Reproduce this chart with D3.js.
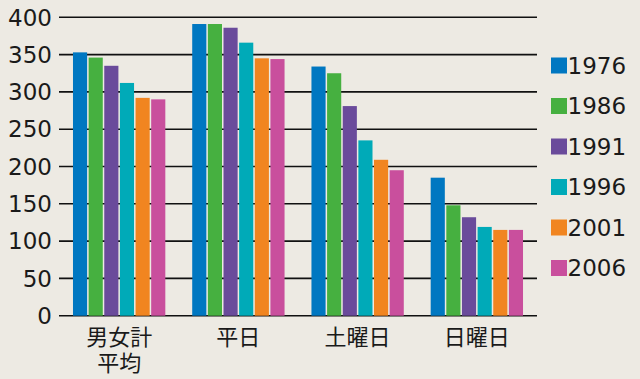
<!DOCTYPE html>
<html>
<head>
<meta charset="utf-8">
<script src="https://cdn.jsdelivr.net/npm/d3@7"></script>
<style>
  html, body { margin: 0; padding: 0; background: #edeae3; }
  svg { display: block; }
  text { font-family: "DejaVu Sans", "Noto Sans CJK JP", sans-serif; fill: #1a1a1a; }
  .cat { font-family: "Noto Sans CJK JP", sans-serif; }
</style>
</head>
<body>
<svg id="chart" width="640" height="379"></svg>
<script>
// categories and series
var categories = [['男女計', '平均'], ['平日'], ['土曜日'], ['日曜日']];
var years = ['1976', '1986', '1991', '1996', '2001', '2006'];
var colors = ['#0077c1', '#46b040', '#6a4b9b', '#00aab8', '#f18520', '#c94f9d'];

// values per year, in category order
var v1976 = [353, 391, 334, 185];
var v1986 = [346, 391, 325, 148];
var v1991 = [335, 386, 281, 132];
var v1996 = [312, 366, 235, 119];
var v2001 = [292, 345, 209, 115];
var v2006 = [290, 344, 195, 115];
var series = [v1976, v1986, v1991, v1996, v2001, v2006];

var yTicks = [0, 50, 100, 150, 200, 250, 300, 350, 400];

var svg = d3.select('#chart');
var plotLeft = 59, plotRight = 537, plotTop = 17.3, plotBottom = 315.7;

var x = d3.scaleBand()
  .domain(d3.range(categories.length))
  .range([plotLeft, plotRight])
  .paddingInner(0.213)
  .paddingOuter(0.111);

var xi = d3.scaleBand()
  .domain(d3.range(years.length))
  .range([0, x.bandwidth()])
  .padding(0);

var y = d3.scaleLinear().domain([0, 400]).range([plotBottom, plotTop]);

// grid lines
svg.append('g').selectAll('line')
  .data(yTicks)
  .enter().append('line')
  .attr('x1', plotLeft).attr('x2', plotRight)
  .attr('y1', function(d) { return y(d); })
  .attr('y2', function(d) { return y(d); })
  .attr('stroke', '#111')
  .attr('stroke-width', 1.6);

// y labels
svg.append('g').selectAll('text')
  .data(yTicks)
  .enter().append('text')
  .attr('x', 52)
  .attr('y', function(d) { return y(d); })
  .attr('dy', '0.36em')
  .attr('text-anchor', 'end')
  .style('font-size', '23px')
  .text(function(d) { return d; });

// bars
var groups = svg.append('g').selectAll('g')
  .data(categories)
  .enter().append('g')
  .attr('transform', function(d, i) { return 'translate(' + x(i) + ',0)'; });

groups.selectAll('rect')
  .data(function(d, i) { return series.map(function(s, j) { return { j: j, v: s[i] }; }); })
  .enter().append('rect')
  .attr('x', function(d) { return xi(d.j) + 0.75; })
  .attr('width', xi.bandwidth() - 1.5)
  .attr('y', function(d) { return y(d.v); })
  .attr('height', function(d) { return y(0) - y(d.v); })
  .attr('fill', function(d) { return colors[d.j]; });

// category labels
groups.each(function(d) {
  var t = d3.select(this).append('text')
    .attr('class', 'cat')
    .attr('text-anchor', 'middle')
    .style('font-size', '22px');
  d.forEach(function(line, k) {
    t.append('tspan')
      .attr('x', x.bandwidth() / 2)
      .attr('y', 345 + k * 26)
      .text(line);
  });
});

// legend
var legend = svg.append('g').selectAll('g')
  .data(years)
  .enter().append('g')
  .attr('transform', function(d, i) { return 'translate(551,' + (65.5 + i * 40.5) + ')'; });

legend.append('rect')
  .attr('x', 0).attr('y', -8)
  .attr('width', 16).attr('height', 16)
  .attr('fill', function(d, i) { return colors[i]; });

legend.append('text')
  .attr('x', 16.5)
  .attr('y', 0)
  .attr('dy', '0.36em')
  .style('font-size', '23px')
  .text(function(d) { return d; });
</script>
</body>
</html>
